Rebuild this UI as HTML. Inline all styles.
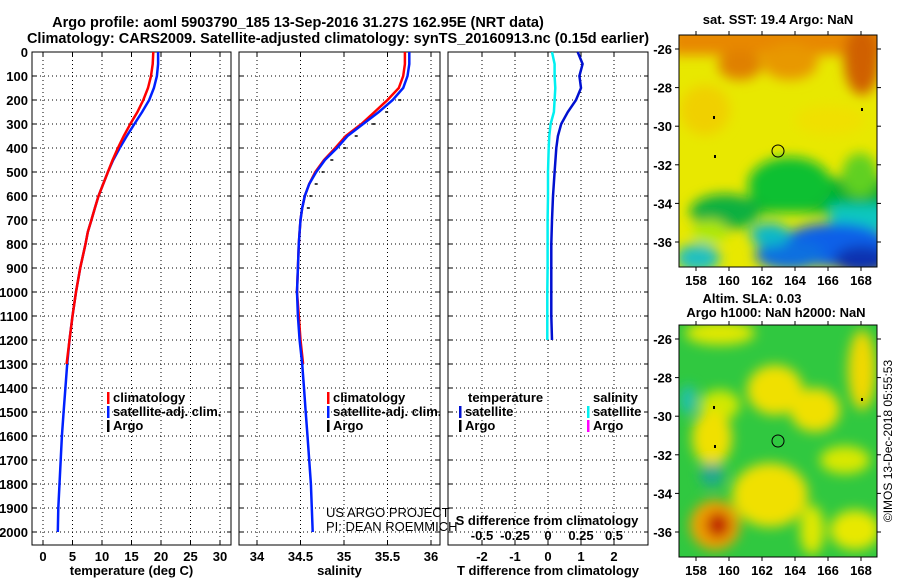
<!DOCTYPE html>
<html><head><meta charset="utf-8"><style>
body{margin:0;background:#fff;width:900px;height:580px;overflow:hidden;font-family:"Liberation Sans",sans-serif}
svg text{font-family:"Liberation Sans",sans-serif;font-weight:bold;font-size:13px;fill:#000}
</style></head><body>
<svg id="s" width="900" height="580" xmlns="http://www.w3.org/2000/svg">
<defs>
<filter id="bl" x="-20%" y="-20%" width="140%" height="140%"><feGaussianBlur stdDeviation="6"/></filter>
<clipPath id="c1"><rect x="679" y="35" width="198" height="232"/></clipPath>
<clipPath id="c2"><rect x="679" y="325" width="198" height="232"/></clipPath>
</defs>
<text x="298" y="27" text-anchor="middle" style="font-size:14.5px">Argo profile: aoml 5903790_185 13-Sep-2016 31.27S 162.95E (NRT data)</text>
<text x="338" y="43" text-anchor="middle" style="font-size:14.5px">Climatology: CARS2009. Satellite-adjusted climatology: synTS_20160913.nc (0.15d earlier)</text>
<g id="charts"></g>
<g>
<text x="778" y="24" text-anchor="middle">sat. SST: 19.4 Argo: NaN</text>
<g clip-path="url(#c1)">
<rect x="679" y="35" width="198" height="232" fill="#e8e800"/>
<g filter="url(#bl)">
<rect x="670" y="25" width="220" height="30" fill="#e88800"/>
<ellipse cx="740" cy="65" rx="22" ry="15" fill="#e08000"/>
<ellipse cx="790" cy="62" rx="28" ry="18" fill="#e89800"/>
<ellipse cx="862" cy="60" rx="18" ry="35" fill="#d06000"/>
<ellipse cx="705" cy="110" rx="25" ry="25" fill="#f0d000"/>
<ellipse cx="830" cy="120" rx="35" ry="15" fill="#f0e000"/>
<rect x="750" y="178" width="140" height="35" fill="#00b030"/>
<ellipse cx="790" cy="185" rx="42" ry="28" fill="#10c030"/>
<ellipse cx="725" cy="212" rx="35" ry="18" fill="#10b040"/>
<ellipse cx="860" cy="175" rx="18" ry="22" fill="#60d020"/>
<rect x="830" y="205" width="60" height="25" fill="#10c8c0"/>
<ellipse cx="835" cy="245" rx="55" ry="22" fill="#1060e8"/>
<ellipse cx="790" cy="255" rx="35" ry="15" fill="#1070e0"/>
<ellipse cx="862" cy="260" rx="28" ry="14" fill="#0830b0"/>
<ellipse cx="770" cy="235" rx="20" ry="12" fill="#10b8c8"/>
<ellipse cx="698" cy="258" rx="22" ry="14" fill="#20c0c0"/>
<ellipse cx="710" cy="232" rx="18" ry="12" fill="#b0e800"/>
</g></g>
<rect x="679" y="35" width="198" height="232" fill="none" stroke="#000"/>
<circle cx="778" cy="151" r="6" fill="none" stroke="#000"/>
<g id="m1ax"></g>
</g>
<g>
<text x="752" y="303" text-anchor="middle">Altim. SLA: 0.03</text>
<text x="776" y="317" text-anchor="middle">Argo h1000: NaN h2000: NaN</text>
<g clip-path="url(#c2)">
<rect x="679" y="325" width="198" height="232" fill="#30c840"/>
<g filter="url(#bl)">
<ellipse cx="720" cy="333" rx="35" ry="12" fill="#e0e800"/>
<ellipse cx="775" cy="390" rx="28" ry="25" fill="#f0e000"/>
<ellipse cx="862" cy="370" rx="14" ry="40" fill="#f0d800"/>
<ellipse cx="720" cy="405" rx="20" ry="15" fill="#d0e800"/>
<ellipse cx="712" cy="438" rx="20" ry="28" fill="#f0e000"/>
<ellipse cx="815" cy="410" rx="25" ry="22" fill="#f0e000"/>
<ellipse cx="770" cy="495" rx="38" ry="32" fill="#f0e000"/>
<ellipse cx="845" cy="460" rx="25" ry="14" fill="#d8e800"/>
<ellipse cx="855" cy="530" rx="25" ry="20" fill="#e8e800"/>
<ellipse cx="812" cy="530" rx="12" ry="25" fill="#e0e800"/>
<ellipse cx="715" cy="525" rx="25" ry="25" fill="#f0a000"/>
<ellipse cx="718" cy="525" rx="12" ry="13" fill="#c02000"/>
<ellipse cx="688" cy="400" rx="8" ry="15" fill="#20c0b0"/>
<ellipse cx="712" cy="475" rx="12" ry="12" fill="#20a890"/>
</g></g>
<rect x="679" y="325" width="198" height="232" fill="none" stroke="#000"/>
<circle cx="778" cy="441" r="6" fill="none" stroke="#000"/>
<g id="m2ax"></g>
<text transform="translate(892,441) rotate(-90)" text-anchor="middle" style="font-weight:normal;font-size:12px">©IMOS 13-Dec-2018 05:55:53</text>
</g>
</svg>
<script>
const depthTicks=[0,100,200,300,400,500,600,700,800,900,1000,1100,1200,1300,1400,1500,1600,1700,1800,1900,2000];
const tempTicks=[0,5,10,15,20,25,30];
const salTicks=[34,34.5,35,35.5,36];
const tdTicks=[-2,-1,0,1,2];
const sdTicks=[-0.5,-0.25,0,0.25,0.5];
const sdTickLabels=["-0.5","-0.25","0","0.25","0.5"];
const climDepth=[0,50,100,150,200,250,300,350,400,450,500,550,600,650,700,750,800,900,1000,1100,1200,1300];
const climTemp=[18.7,18.6,18.3,17.8,17,16,14.8,13.7,12.7,11.8,11,10.2,9.4,8.8,8.2,7.6,7.2,6.3,5.6,5,4.5,4];
const climSal=[35.7,35.7,35.68,35.63,35.5,35.35,35.2,35.02,34.9,34.77,34.67,34.6,34.55,34.52,34.5,34.49,34.48,34.47,34.46,34.48,34.5,34.53];
const satDepth=[0,50,100,150,200,250,300,350,400,450,500,550,600,650,700,750,800,900,1000,1100,1200,1300,1400,1500,1600,1700,1800,1900,2000];
const satTemp=[19.5,19.5,19.3,18.8,18,16.8,15.5,14.2,13,11.9,11,10.2,9.4,8.8,8.2,7.6,7.2,6.3,5.6,5,4.5,4.1,3.8,3.5,3.2,3,2.8,2.6,2.5];
const satSal=[35.75,35.75,35.73,35.68,35.56,35.4,35.22,35.04,34.92,34.78,34.68,34.6,34.55,34.52,34.5,34.49,34.48,34.47,34.46,34.47,34.49,34.52,34.54,34.56,34.58,34.6,34.62,34.63,34.64];
const argoSalDepth=[200,250,300,350,400,450,500,550,600,650];
const argoSal=[35.6,35.45,35.3,35.1,34.97,34.82,34.72,34.64,34.58,34.55];
const diffDepth=[0,50,100,150,200,250,300,350,400,500,600,700,800,900,1000,1100,1200];
const tDiff=[0.9,1.05,0.95,1.0,0.85,0.6,0.4,0.3,0.25,0.2,0.15,0.12,0.1,0.1,0.1,0.1,0.12];
const sDiff=[0.03,0.05,0.05,0.055,0.05,0.045,0.02,0.01,0.005,0,0,-0.003,-0.003,-0.003,-0.005,-0.005,-0.005];
const lonTicks=[158,160,162,164,166,168];
const latTicks=[-26,-28,-30,-32,-34,-36];

const NS='http://www.w3.org/2000/svg';
const root=document.getElementById('charts');
function el(t,a,p){const e=document.createElementNS(NS,t);for(const k in a)e.setAttribute(k,a[k]);(p||root).appendChild(e);return e;}
const Y0=52,Y1=545;
const yD=d=>52+d*0.24;
function lin(d0,d1,p0,p1){return v=>p0+(v-d0)*(p1-p0)/(d1-d0);}
const xT=lin(0,30,43,220), xS=lin(34,36,257,431), xTD=lin(0,2,548,614), xSD=lin(0,0.5,548,614);

function panel(name,x0,x1,xt,ticks,labels,xlabel,showY){
  const g=el('g',{});
  
  
  ticks.forEach((t,i)=>{const x=xt(t);
    const l=el('line',{x1:x,x2:x,y1:Y0,y2:Y1,stroke:'#000','stroke-dasharray':'1,3'},g);
    
    el('line',{x1:x,x2:x,y1:Y1,y2:Y1-4,stroke:'#000'},g);el('line',{x1:x,x2:x,y1:Y0,y2:Y0+4,stroke:'#000'},g);
    if(labels){const tx=el('text',{x:x,y:Y1+16,'text-anchor':'middle'},g);tx.textContent=labels[i];
      }
  });
  depthTicks.forEach(d=>{const y=yD(d);
    const l=el('line',{x1:x0,x2:x1,y1:y,y2:y,stroke:'#000','stroke-dasharray':'1,3'},g);
    
    el('line',{x1:x0,x2:x0+4,y1:y,y2:y,stroke:'#000'},g);el('line',{x1:x1,x2:x1-4,y1:y,y2:y,stroke:'#000'},g);
    if(showY){const tx=el('text',{x:x0-4,y:y+5,'text-anchor':'end'},g);tx.textContent=d;
      }
  });
  el('rect',{x:x0,y:Y0,width:x1-x0,height:Y1-Y0,fill:'none',stroke:'#000'},g);
  const xl=el('text',{x:(x0+x1)/2,y:575,'text-anchor':'middle'},g);xl.textContent=xlabel;
  
  return g;
}
function line(g,xs,ds,xf,col,name,w){
  const pts=xs.map((v,i)=>xf(v).toFixed(1)+','+yD(ds[i]).toFixed(1)).join(' ');
  const p=el('polyline',{points:pts,fill:'none',stroke:col,'stroke-width':w||2.5},g);
  
}
function legend(g,x,y,items){items.forEach((it,i)=>{
  el('rect',{x:x,y:y+i*14-10,width:2.5,height:12,fill:it[1]},g);
  const t=el('text',{x:x+6,y:y+i*14},g);t.textContent=it[0];
  });}

const g1=panel('temperature-panel',32,231,xT,tempTicks,tempTicks.map(String),'temperature (deg C)',true);
line(g1,satTemp,satDepth,xT,'#0020ff','temp-satellite-line');
line(g1,climTemp,climDepth,xT,'#ff0000','temp-climatology-line');
legend(g1,107,402,[['climatology','#f00'],['satellite-adj. clim.','#0020ff'],['Argo','#000']]);

const g2=panel('salinity-panel',239,440,xS,salTicks,salTicks.map(String),'salinity',false);
line(g2,climSal,climDepth,xS,'#ff0000','salinity-climatology-line');
line(g2,satSal,satDepth,xS,'#0020ff','salinity-satellite-line');
argoSal.forEach((s,i)=>{const m=el('line',{x1:xS(s)+2,x2:xS(s)+5,y1:yD(argoSalDepth[i]),y2:yD(argoSalDepth[i]),stroke:'#000','stroke-width':1.5},g2);
  });
legend(g2,327,402,[['climatology','#f00'],['satellite-adj. clim.','#0020ff'],['Argo','#000']]);
[['US ARGO PROJECT',517],['PI: DEAN ROEMMICH',531]].forEach(a=>{const t=el('text',{x:326,y:a[1],style:'font-weight:normal;font-size:13px'},g2);t.textContent=a[0];
  });

const g3=panel('difference-panel',448,648,xTD,tdTicks,tdTicks.map(String),'T difference from climatology',false);
line(g3,tDiff,diffDepth,xTD,'#0010d0','temp-diff-line');
line(g3,sDiff,diffDepth,xSD,'#00f0f0','salinity-diff-line');
sdTicks.forEach((s,i)=>{const t=el('text',{x:xSD(s),y:540,'text-anchor':'middle'},g3);t.textContent=sdTickLabels[i];
  });
const st=el('text',{x:547,y:525,'text-anchor':'middle'},g3);st.textContent='S difference from climatology';

const h1=el('text',{x:468,y:402},g3);h1.textContent='temperature';
const h2=el('text',{x:593,y:402},g3);h2.textContent='salinity';
legend(g3,459,416,[['satellite','#0010d0'],['Argo','#000']]);
legend(g3,587,416,[['satellite','#00f0f0'],['Argo','#f0f']]);

function mapAxes(id,top){
  const g=document.getElementById(id);
  const xL=lin(158,168,696,861), yL=v=>top+14+(v+26)*(-19.3);
  lonTicks.forEach(l=>{const x=xL(l);el('line',{x1:x,x2:x,y1:top,y2:top-4,stroke:'#000'},g);el('line',{x1:x,x2:x,y1:top+232,y2:top+236,stroke:'#000'},g);
    const t=el('text',{x:x,y:top+250,'text-anchor':'middle'},g);t.textContent=l;});
  latTicks.forEach(l=>{const y=yL(l);el('line',{x1:679,x2:675,y1:y,y2:y,stroke:'#000'},g);el('line',{x1:877,x2:881,y1:y,y2:y,stroke:'#000'},g);
    const t=el('text',{x:672,y:y+5,'text-anchor':'end'},g);t.textContent=l;});
  [[713,top+81],[714,top+120],[861,top+73]].forEach(p=>el('rect',{x:p[0],y:p[1],width:2,height:3,fill:'#000'},g));
}
mapAxes('m1ax',35);mapAxes('m2ax',325);
</script>
</body></html>
